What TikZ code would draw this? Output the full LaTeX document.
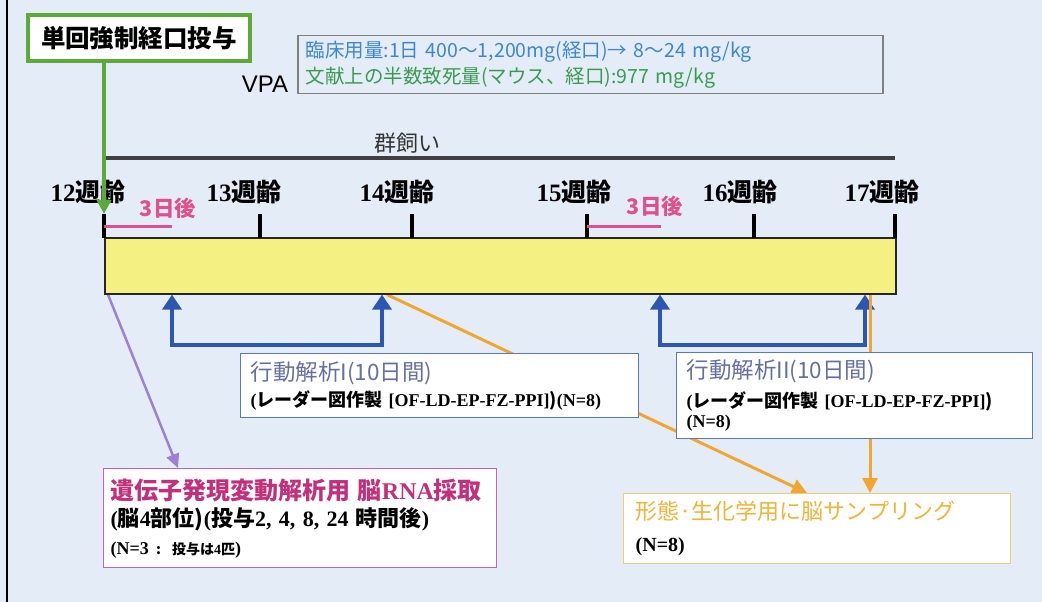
\documentclass[tikz,border=0pt]{standalone}
\usepackage{fontspec}
\setmainfont{Liberation Serif}
\setsansfont{Liberation Sans}
\newfontfamily\jp{Noto Sans CJK JP}
\newcommand\jb[1]{{\jp\bfseries #1}}
\usetikzlibrary{arrows.meta,backgrounds}
\definecolor{bgc}{HTML}{E4EDF7}
\definecolor{grn}{HTML}{5BAA3A}
\definecolor{bluea}{HTML}{2B56B2}
\definecolor{orng}{HTML}{F2A632}
\definecolor{purp}{HTML}{9B80D4}
\definecolor{pinkl}{HTML}{E0508C}
\definecolor{boxblue}{HTML}{5A78C0}
\definecolor{titleblue}{HTML}{6670A0}
\definecolor{mag}{HTML}{C2307C}
\definecolor{pinkbox}{HTML}{C462B8}
\definecolor{obox}{HTML}{F0CC72}
\definecolor{otext}{HTML}{F0B43A}
\definecolor{infoblue}{HTML}{3F86D0}
\definecolor{infogreen}{HTML}{3A9A50}
\definecolor{yelbar}{HTML}{F4F082}
\begin{document}
\begin{tikzpicture}[x=1pt,y=-1pt,
  every node/.style={inner sep=0pt},
  tickmark/.style={line width=4pt, black},
  wk/.style={font=\bfseries\fontsize{25}{25}\selectfont},
  pinktxt/.style={text=pinkl, font=\fontsize{21.5}{21.5}\selectfont},
  pinkbar/.style={draw=pinkl, line width=3pt},
  bluearr/.style={draw=bluea, line width=4pt, {Triangle[width=19pt,length=15pt]}-{Triangle[width=19pt,length=15pt]}},
  orarr/.style={draw=orng, line width=3pt, -{Triangle[width=15pt,length=15pt]}},
  purarr/.style={draw=purp, line width=2.5pt, -{Triangle[width=13pt,length=14pt]}},
  grnarr/.style={draw=grn, line width=3.5pt, -{Triangle[width=14pt,length=14pt]}},
  panel/.style={draw, fill=white, line width=1.3pt, anchor=north west, align=left, inner xsep=10pt},
]
\useasboundingbox (0,0) rectangle (1042,602);
\begin{pgfonlayer}{background}
\fill[bgc] (0,0) rectangle (1042,602);
\end{pgfonlayer}
\draw[line width=2pt, black] (7,0) -- (7,602);

% dose box
\node[draw=grn, line width=4pt, fill=white, minimum width=222pt, minimum height=46pt, anchor=north west,
  font=\jp\bfseries\fontsize{24.5}{24.5}\selectfont] (dose) at (26,13) {単回強制経口投与};

% VPA and info
\node[font=\sffamily\fontsize{24}{24}\selectfont] (vpa) at (265,84) {VPA};
\node[panel, draw=gray, fill=none, line width=1.5pt, minimum width=585pt, minimum height=58pt, text width=569pt,
  inner xsep=8pt, font=\jp\fontsize{19.5}{26}\selectfont] (info) at (297,35)
  {{\color{infoblue}臨床用量:1日 400〜1,200mg(経口)→ 8〜24 mg/kg}\\
   {\color{infogreen}文献上の半数致死量(マウス、経口):977 mg/kg}};

% group housing
\node[font=\jp\fontsize{22}{22}\selectfont, text=black!80] (group) at (407,143) {群飼い};
\draw[line width=3.5pt, black!75] (105,158) -- (895,158);

% week labels
\node[wk] (w12) at (88,192) {12\jb{週齢}};
\node[wk] (w13) at (244,192) {13\jb{週齢}};
\node[wk] (w14) at (397,192) {14\jb{週齢}};
\node[wk] (w15) at (574,192) {15\jb{週齢}};
\node[wk] (w16) at (740,192) {16\jb{週齢}};
\node[wk] (w17) at (882,192) {17\jb{週齢}};

% yellow bar
\node[draw=black!85, line width=1.6pt, fill=yelbar, minimum width=791pt, minimum height=56pt, anchor=north west] (bar) at (104,237) {};

% ticks
\coordinate (t12) at (104,214);
\coordinate (t13) at (260,214);
\coordinate (t14) at (412,214);
\coordinate (t15) at (587,214);
\coordinate (t16) at (754,214);
\coordinate (t17) at (895,214);
\foreach \t in {t12,t13,t14,t15,t16,t17} \draw[tickmark] (\t) -- ++(0,24);

% 3 days after
\node[pinktxt] (d1) at (168,208) {\jb{3日後}};
\draw[pinkbar] (t12 |- 0,226) -- (172,226);
\node[pinktxt] (d2) at (655,206) {\jb{3日後}};
\draw[pinkbar] (t15 |- 0,226) -- (661,226);

% green arrow
\draw[grnarr] (dose.south -| t12) -- (t12);

% panels
\node[panel, draw=boxblue, minimum width=398pt, minimum height=64pt, text width=378pt,
  font=\fontsize{18}{26}\selectfont] (beh1) at (240,353)
  {{\color{titleblue}\jp\fontsize{22.5}{22.5}\selectfont 行動解析I(10日間)}\\
   {\bfseries (\jb{レーダー図作製} [OF-LD-EP-FZ-PPI]\jb{)}(N=8)}};
\node[panel, draw=boxblue, minimum width=356pt, minimum height=86pt, text width=336pt,
  font=\fontsize{18}{20.5}\selectfont] (beh2) at (676,352)
  {{\color{titleblue}\jp\fontsize{22.5}{22.5}\selectfont 行動解析II(10日間)}\\[8pt]
   {\bfseries (\jb{レーダー図作製} [OF-LD-EP-FZ-PPI]\jb{)}}\\
   {\bfseries (N=8)}};
\node[panel, draw=pinkbox, minimum width=393pt, minimum height=99pt, text width=379pt, inner xsep=7pt,
  font=\fontsize{22}{27.5}\selectfont] (rna) at (103,468)
  {{\color{mag}\fontsize{24}{24}\selectfont\bfseries\jb{遺伝子発現変動解析用 脳}RNA\jb{採取}}\\
   {\bfseries (\jb{脳}4\jb{部位)}(\jb{投与}2, 4, 8, 24 \jb{時間後})}\\
   {\bfseries\fontsize{18}{18}\selectfont (N=3 {\fontsize{14}{14}\selectfont\jb{: 投与は}4\jb{匹}})}};
\node[panel, draw=obox, minimum width=387pt, minimum height=70pt, text width=363pt, inner xsep=12pt,
  font=\fontsize{20}{32}\selectfont] (morph) at (623,493)
  {{\color{otext}\jp\fontsize{22}{22}\selectfont 形態·生化学用に脳サンプリング}\\
   {\bfseries (N=8)}};

% connectors (behind panels)
\begin{pgfonlayer}{background}
\draw[bluearr] (bar.south -| 172,0) -- (172,345) -- (382,345) -- (bar.south -| 382,0);
\draw[bluearr] (bar.south -| 660,0) -- (660,345) -- (865,345) -- (bar.south -| 865,0);
\draw[orarr] (bar.south -| 387,0) -- (morph.north -| 807,0);
\draw[orarr] (bar.south -| 870,0) -- (morph.north -| 870,0);
\draw[purarr] (bar.south -| 108,0) -- (rna.north -| 178,0);
\end{pgfonlayer}
\end{tikzpicture}
\end{document}
